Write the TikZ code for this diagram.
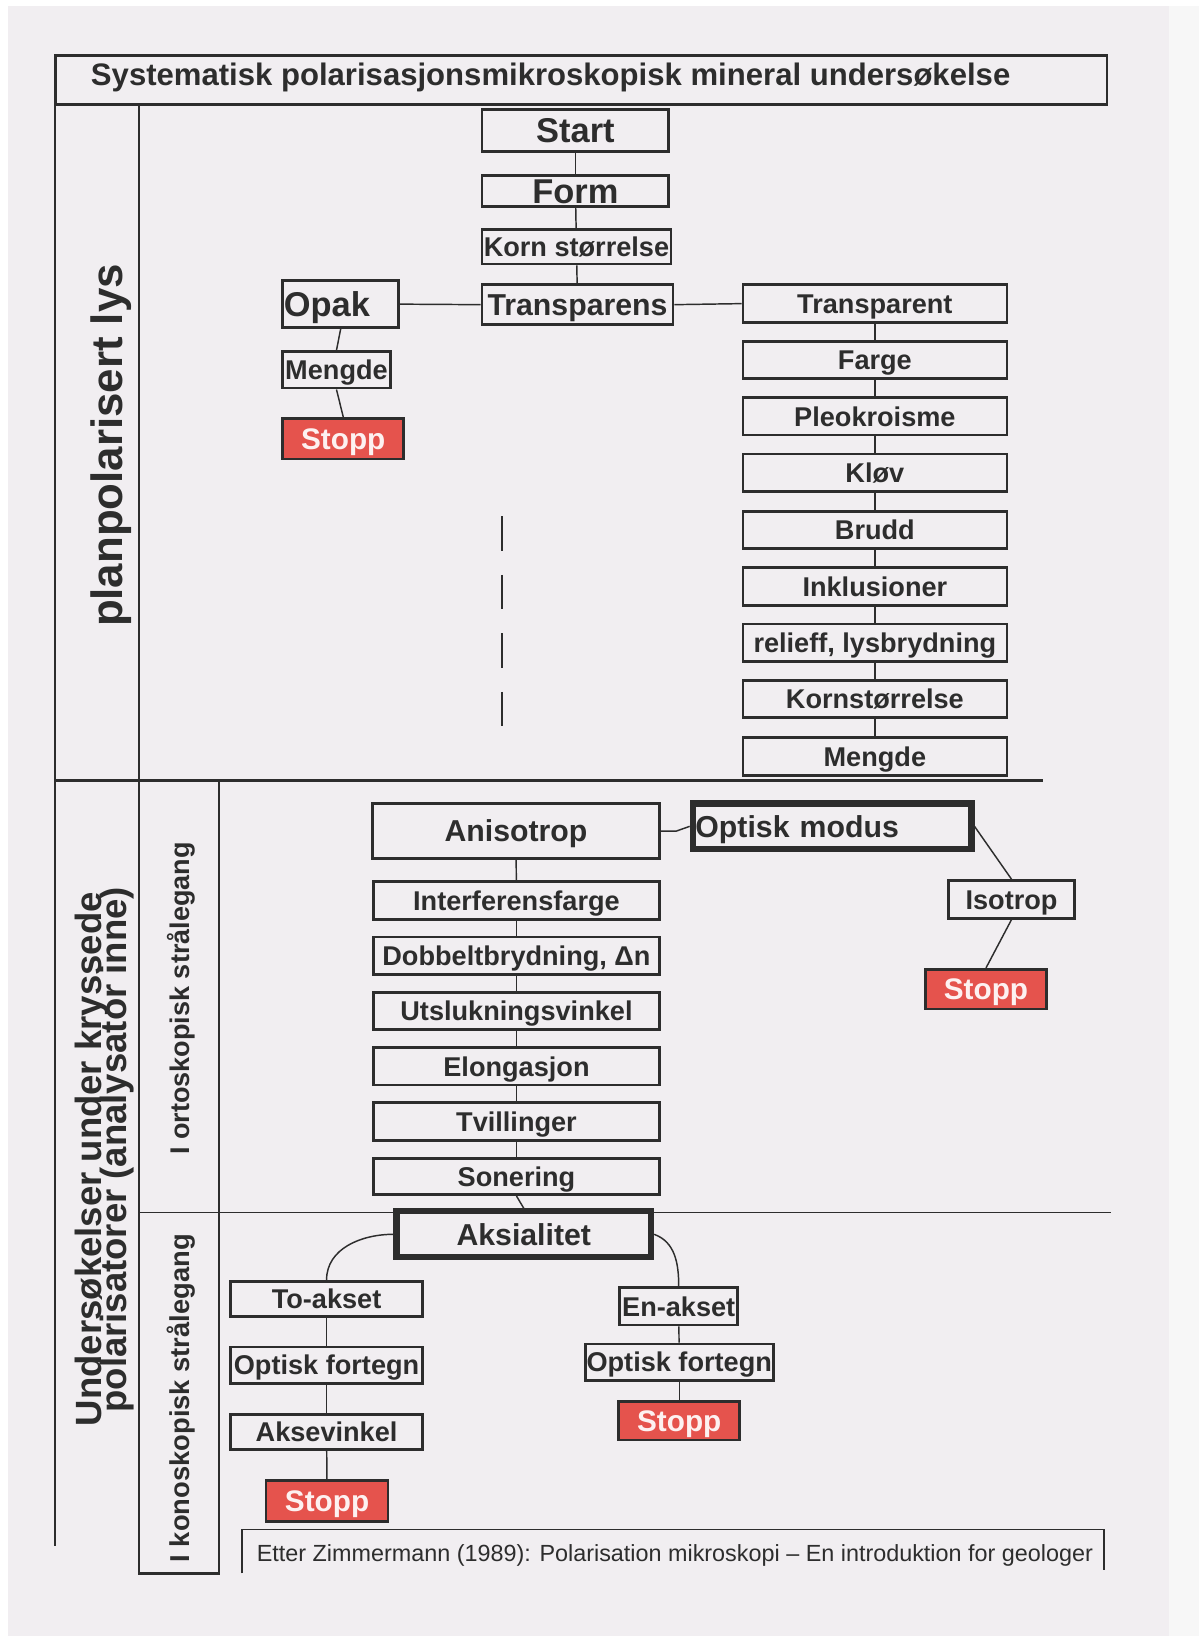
\documentclass[tikz,border=0pt]{standalone}
\usepackage{fontspec}
\setmainfont{Liberation Sans}
\definecolor{ink}{RGB}{45,45,45}
\definecolor{page}{RGB}{241,238,241}
\definecolor{pagelight}{RGB}{247,247,247}
\definecolor{stopred}{RGB}{229,83,77}
\newcommand\mybox[7]{%
  \node[#6, minimum width={(#4)-(#2)}, minimum height={(#5)-(#3)}] (#1) at ({((#2)+(#4))/2},{((#3)+(#5))/2}) {#7};}
\tikzset{
  bx/.style={draw=ink, line width=2.6pt, fill=page, inner sep=0pt, text=ink},
  heavy/.style={bx, line width=6pt},
  stopbox/.style={draw=ink, line width=2.6pt, fill=stopred, inner sep=0pt, text=white!92!stopred, fst},
  fa/.style={font=\bfseries\fontsize{26}{26}\selectfont, text height=18.6pt, text depth=0pt},
  fb/.style={font=\bfseries\fontsize{29}{29}\selectfont, text height=20.8pt, text depth=0pt},
  fc/.style={font=\bfseries\fontsize{33}{33}\selectfont, text height=23.6pt, text depth=0pt},
  fst/.style={font=\bfseries\fontsize{28.5}{28.5}\selectfont, text height=20.4pt, text depth=0pt},
  link/.style={draw=ink, line width=1.4pt},
  frameline/.style={draw=ink, line width=2.2pt},
  thinframe/.style={draw=ink, line width=1.6pt},
  sidelabel/.style={text=ink, inner sep=0pt, rotate=90, anchor=base},
}
\begin{document}
\begin{tikzpicture}[x=1pt,y=-1pt]
\useasboundingbox (0,0) rectangle (1149,1568);
\fill[white] (0,0) rectangle (1149,1568);
\fill[page] (8,6) rectangle (1149,1568);
\fill[pagelight] (1120,6) rectangle (1149,1568);

% frame
\node[draw=ink, line width=2.4pt, minimum width=1008pt, minimum height=47pt, inner sep=0pt] (titlebox) at (557,76.5) {};
\node[anchor=base west, inner sep=0pt, text=ink, font=\bfseries\fontsize{29.8}{29.8}\selectfont] (titletext) at (87,82) {Systematisk polarisasjonsmikroskopisk mineral undersøkelse};
\draw[frameline] (53,100) -- (53,1482);
\draw[frameline] (133,100) -- (133,1508) -- (210,1508) -- (210,748);
\draw[frameline] (53,748) -- (1000,748);
\draw[thinframe] (133,1162) -- (1065,1162);
\draw[thinframe] (232,1508) -- (232,1466) -- (1058,1466) -- (1058,1505);
\draw[ink, line width=2pt, dash pattern=on 33pt off 23pt] (481,495) -- (481,701);

% side labels
\node[sidelabel, font=\bfseries\fontsize{42}{42}\selectfont] (lbl1) at (117,427) {planpolarisert lys};
\node[sidelabel, font=\bfseries\fontsize{35}{35}\selectfont] (lbl2a) at (97,1111) {Undersøkelser under kryssede};
\node[sidelabel, font=\bfseries\fontsize{35}{35}\selectfont] (lbl2b) at (121,1102) {polarisatorer (analysator inne)};
\node[sidelabel, font=\bfseries\fontsize{25.9}{25.9}\selectfont] (lbl3) at (182,957) {I ortoskopisk strålegang};
\node[sidelabel, font=\bfseries\fontsize{26.2}{26.2}\selectfont] (lbl4) at (182,1340) {I konoskopisk strålegang};
\node[anchor=base west, inner sep=0pt, text=ink, font=\fontsize{22.4}{22.4}\selectfont] (note) at (246,1497) {Etter Zimmermann (1989): Polarisation mikroskopi – En introduktion for geologer};

% upper part
\mybox{start}{462}{105}{641}{145}{bx,fc}{Start}
\mybox{form}{462}{168}{641}{198}{bx,fc}{Form}
\mybox{korn}{462}{220}{643}{253}{bx,fa}{Korn størrelse}
\mybox{transparens}{462}{273}{645}{311}{bx,fb}{Transparens}
\mybox{opak}{271}{269}{382}{314}{bx,fc,text width=109pt,align=left}{Opak}
\mybox{mengdeo}{271}{337}{374}{372}{bx,fa}{Mengde}
\mybox{stoppo}{271}{401}{387}{440}{stopbox}{Stopp}

\mybox{r1}{712}{273}{965}{309}{bx,fa}{Transparent}
\mybox{r2}{712}{327}{965}{363}{bx,fa}{Farge}
\mybox{r3}{712}{381}{965}{417}{bx,fa}{Pleokroisme}
\mybox{r4}{712}{435}{965}{471}{bx,fa}{Kløv}
\mybox{r5}{712}{490}{965}{526}{bx,fa}{Brudd}
\mybox{r6}{712}{544}{965}{580}{bx,fa}{Inklusioner}
\mybox{r7}{712}{598}{965}{634}{bx,fa}{relieff, lysbrydning}
\mybox{r8}{712}{652}{965}{688}{bx,fa}{Kornstørrelse}
\mybox{r9}{712}{707}{965}{743}{bx,fa}{Mengde}

\draw[link] (start) -- (form);
\draw[link] (form) -- (korn);
\draw[link] (korn) -- (transparens);
\draw[link] (opak.east) -- (transparens.west);
\draw[link] (transparens.east) -- (r1.west);
\draw[link] (opak.south) -- (mengdeo.north);
\draw[link] (mengdeo.south) -- (stoppo.north);
\foreach \a/\b in {r1/r2,r2/r3,r3/r4,r4/r5,r5/r6,r6/r7,r7/r8,r8/r9}
  \draw[link] (\a) -- (\b);

% lower part
\mybox{aniso}{357}{770}{632}{823}{bx,fb}{Anisotrop}
\mybox{modus}{664}{770}{931}{814}{heavy,fb,text width=262pt,align=left}{Optisk modus}
\mybox{isotrop}{909}{844}{1030}{880}{bx,fa}{Isotrop}
\mybox{stopi}{887}{929}{1003}{967}{stopbox}{Stopp}
\mybox{o1}{358}{845}{632}{881}{bx,fa}{Interferensfarge}
\mybox{o2}{358}{898}{632}{934}{bx,fa}{Dobbeltbrydning, Δn}
\mybox{o3}{358}{951}{632}{987}{bx,fa}{Utslukningsvinkel}
\mybox{o4}{358}{1004}{632}{1040}{bx,fa}{Elongasjon}
\mybox{o5}{358}{1057}{632}{1093}{bx,fa}{Tvillinger}
\mybox{o6}{358}{1110}{632}{1145}{bx,fa}{Sonering}
\mybox{aks}{380}{1161}{624}{1205}{heavy,fb}{Aksialitet}
\mybox{toak}{221}{1228}{405}{1262}{bx,fa}{To-akset}
\mybox{ofl}{221}{1291}{405}{1326}{bx,fa}{Optisk fortegn}
\mybox{aksev}{221}{1356}{405}{1389}{bx,fa}{Aksevinkel}
\mybox{stopl}{255}{1419}{372}{1458}{stopbox}{Stopp}
\mybox{enak}{594}{1234}{707}{1270}{bx,fa}{En-akset}
\mybox{ofr}{561}{1288}{741}{1323}{bx,fa}{Optisk fortegn}
\mybox{stopr}{593}{1343}{709}{1380}{stopbox}{Stopp}

\draw[link] (aniso.east) -- ++(15,0) -- (modus.west);
\draw[link] (modus.east) -- (isotrop.north);
\draw[link] (isotrop.south) -- (stopi.north);
\draw[link] (aniso) -- (o1);
\foreach \a/\b in {o1/o2,o2/o3,o3/o4,o4/o5}
  \draw[link] (\a) -- (\b);
\draw[link] (o5.south) -- (o6.north);
\draw[link] (o6.south) -- (aks.north);
\draw[link] (aks.west) to[out=180,in=90] (toak.north);
\draw[link] (aks.east) to[out=-20,in=90] (enak.north);
\draw[link] (toak) -- (ofl);
\draw[link] (ofl) -- (aksev);
\draw[link] (aksev) -- (stopl);
\draw[link] (enak) -- (ofr);
\draw[link] (ofr) -- (stopr);
\end{tikzpicture}
\end{document}
